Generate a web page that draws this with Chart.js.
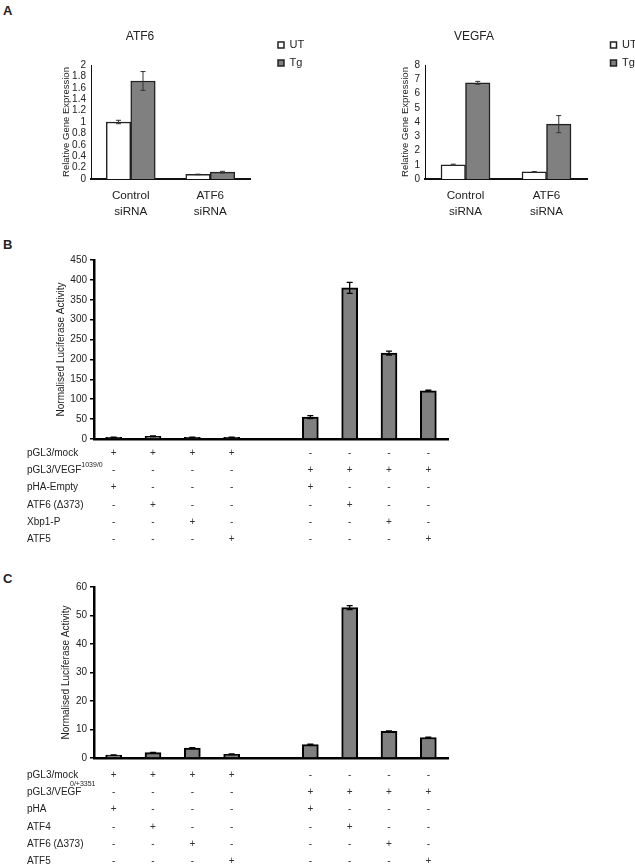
<!DOCTYPE html>
<html>
<head>
<meta charset="utf-8">
<script src="https://cdn.jsdelivr.net/npm/chart.js@4.4.0/dist/chart.umd.min.js"></script>
<style>
  body { margin: 0; background: #fff; font-family: "Liberation Sans", Arial, sans-serif; color: #222; }
  #page { position: relative; width: 635px; height: 867px; overflow: hidden; }
  canvas { position: absolute; }
  .letter { position: absolute; font-weight: bold; font-size: 13px; line-height: 1; }
  .row { position: absolute; font-size: 10px; white-space: nowrap; transform: translateY(-50%); line-height: 1; filter: grayscale(1); }
  .sign { position: absolute; font-size: 10px; color: #333; transform: translate(-50%, -50%); line-height: 1; filter: grayscale(1); }
  .sup { position: absolute; font-size: 7px; white-space: nowrap; transform: translateY(-50%); line-height: 1; filter: grayscale(1); }
</style>
</head>
<body>
<div id="page">
  <div class="letter" style="left:3px; top:4px">A</div>
  <div class="letter" style="left:3px; top:238px">B</div>
  <div class="letter" style="left:3px; top:572px">C</div>
  <canvas id="atf6-chart" width="286" height="205" style="left:30px; top:20px"></canvas>
  <canvas id="vegfa-chart" width="274" height="205" style="left:361px; top:20px"></canvas>
  <canvas id="luc-b" width="460" height="198" style="left:0px; top:250px"></canvas>
  <canvas id="luc-c" width="460" height="191" style="left:0px; top:576px"></canvas>
</div>
<script>
// panel A - qPCR
const siRNALabels = [["Control", "siRNA"], ["ATF6", "siRNA"]];
const atf6UT = [1.0, 0.08];
const atf6UTErr = [0.03, 0.005];
const atf6Tg = [1.72, 0.12];
const atf6TgErr = [0.165, 0.015];
const vegfaUT = [1.0, 0.5];
const vegfaUTErr = [0.04, 0.02];
const vegfaTg = [6.75, 3.85];
const vegfaTgErr = [0.1, 0.6];

// panels B and C - luciferase, lane 5 is an empty gap
const lanes = ["1", "2", "3", "4", "", "5", "6", "7", "8"];
const lucB = [4, 7, 4, 4, null, 55, 380, 216, 121];
const lucBErr = [0.8, 1, 0.6, 0.6, null, 4, 14, 5, 1.5];
const lucC = [1.0, 1.9, 3.5, 1.3, null, 4.7, 52.8, 9.4, 7.2];
const lucCErr = [0.1, 0.1, 0.15, 0.1, null, 0.15, 0.7, 0.15, 0.15];

const rowsB = ["pGL3/mock", "pGL3/VEGF", "pHA-Empty", "ATF6 (\u0394373)", "Xbp1-P", "ATF5"];
const signsB = ["++++ ----", "---- ++++", "+--- +---", "-+-- -+--", "--+- --+-", "---+ ---+"];
const rowsC = ["pGL3/mock", "pGL3/VEGF", "pHA", "ATF4", "ATF6 (\u0394373)", "ATF5"];
const signsC = ["++++ ----", "---- ++++", "+--- +---", "-+-- -+--", "--+- --+-", "---+ ---+"];
const supB = "-1039/0";
const supC = "0/+3351";

Chart.defaults.font.family = "'Liberation Sans', Arial, sans-serif";
Chart.defaults.color = "#222";

//draws the error bars on top of each bar, using the y scale
const errorBars = {
  id: "errorBars",
  afterDatasetsDraw(chart, args, opts) {
    const ctx = chart.ctx;
    const yScale = chart.scales.y;
    chart.data.datasets.forEach((ds, di) => {
      if (!ds.errors) return;
      const meta = chart.getDatasetMeta(di);
      meta.data.forEach((bar, i) => {
        const v = ds.data[i];
        const e = ds.errors[i];
        if (v == null || !e) return;
        const top = yScale.getPixelForValue(v + e);
        const bot = yScale.getPixelForValue(v - e);
        ctx.save();
        ctx.strokeStyle = opts.color;
        ctx.lineWidth = opts.width;
        ctx.beginPath();
        ctx.moveTo(bar.x, top);
        ctx.lineTo(bar.x, bot);
        ctx.moveTo(bar.x - opts.cap, top);
        ctx.lineTo(bar.x + opts.cap, top);
        ctx.moveTo(bar.x - opts.cap, bot);
        ctx.lineTo(bar.x + opts.cap, bot);
        ctx.stroke();
        ctx.restore();
      });
    });
  }
};

//moves the legend box to a fixed spot in the canvas
const legendAt = {
  id: "legendAt",
  afterLayout(chart, args, opts) {
    const lg = chart.legend;
    if (!lg || opts.x == null) return;
    lg.left = opts.x;
    lg.right = opts.x + lg.width;
    lg.top = opts.y;
    lg.bottom = opts.y + 150;
  }
};

const qpcrChart = (canvas, title, ut, utErr, tg, tgErr, yMax, step, axisW, rightPad, titlePad, legendX) => {
  return new Chart(canvas, {
    type: "bar",
    data: {
      labels: siRNALabels,
      datasets: [
        { label: "UT", data: ut, errors: utErr, backgroundColor: "#ffffff", borderColor: "#222", borderWidth: 1.5, barThickness: 24.5 },
        { label: "Tg", data: tg, errors: tgErr, backgroundColor: "#808080", borderColor: "#222", borderWidth: 1.5, barThickness: 24.5 }
      ]
    },
    options: {
      responsive: false,
      animation: false,
      layout: { padding: { top: 0, right: rightPad, bottom: 0, left: 0 } },
      plugins: {
        title: { display: true, text: title, color: "#222", font: { size: 12, weight: "normal" }, padding: { top: 9, bottom: 21.6 } },
        legend: {
          position: "chartArea",
          align: "start",
          labels: { boxWidth: 6, boxHeight: 6, padding: 7, color: "#222", font: { size: 11 } }
        },
        legendAt: { x: legendX, y: 12.5 },
        tooltip: { enabled: false },
        errorBars: { color: "#333", width: 1, cap: 2.5 }
      },
      scales: {
        x: {
          grid: { display: false, drawTicks: false },
          border: { color: "#111", width: 2 },
          ticks: { color: "#222", font: { size: 11.7, lineHeight: 1.3 }, padding: 9.5 },
          afterFit: (s) => { s.height = 46; }
        },
        y: {
          min: 0,
          max: yMax,
          grid: { display: false, drawTicks: false },
          border: { color: "#111", width: 1 },
          ticks: { stepSize: step, autoSkip: false, padding: 5, color: "#222", font: { size: 10 }, callback: (v) => +v.toFixed(1) },
          title: { display: true, text: "Relative Gene Expression", color: "#222", font: { size: 9.5 }, padding: { top: titlePad, bottom: 0 } },
          afterFit: (s) => { s.width = axisW; }
        }
      }
    },
    plugins: [errorBars, legendAt]
  });
};

const lucChart = (canvas, values, errs, yMax, step, topPad, titlePad) => {
  return new Chart(canvas, {
    type: "bar",
    data: {
      labels: lanes,
      datasets: [
        { data: values, errors: errs, backgroundColor: "#808080", borderColor: "#000", borderWidth: 2, barThickness: 16 }
      ]
    },
    options: {
      responsive: false,
      animation: false,
      layout: { padding: { top: topPad, right: 12, bottom: 0, left: 0 } },
      plugins: {
        legend: { display: false },
        tooltip: { enabled: false },
        errorBars: { color: "#000", width: 1.3, cap: 3 }
      },
      scales: {
        x: {
          grid: { display: false, drawTicks: false },
          border: { color: "#000", width: 2.5 },
          ticks: { display: false },
          afterFit: (s) => { s.height = 8; }
        },
        y: {
          min: 0,
          max: yMax,
          grid: { display: true, drawOnChartArea: false, drawTicks: true, tickLength: 4, color: "#000", lineWidth: 1.5 },
          border: { color: "#000", width: 2.5 },
          ticks: { stepSize: step, autoSkip: false, padding: 3, color: "#222", font: { size: 10 } },
          title: { display: true, text: "Normalised Luciferase Activity", color: "#222", font: { size: 10 }, padding: { top: titlePad, bottom: 0 } },
          afterFit: (s) => { s.width = 94; }
        }
      }
    },
    plugins: [errorBars]
  });
};

//the +/- table below a luciferase chart, columns follow the bars
const renderTable = (chart, canvasLeft, rows, signs, firstY, sup, supX, supY) => {
  const page = document.querySelector("#page");
  const xScale = chart.scales.x;
  rows.forEach((name, r) => {
    const y = firstY + r * 17.2;
    const label = document.createElement("div");
    label.className = "row";
    label.style.left = "27px";
    label.style.top = y + "px";
    label.textContent = name;
    page.appendChild(label);
    signs[r].split("").forEach((c, i) => {
      if (c === " ") return;
      const s = document.createElement("div");
      s.className = "sign";
      s.style.left = (canvasLeft + xScale.getPixelForValue(i)) + "px";
      s.style.top = y + "px";
      s.textContent = c === "-" ? "-" : "+";
      page.appendChild(s);
    });
  });
  const sp = document.createElement("div");
  sp.className = "sup";
  sp.style.left = supX + "px";
  sp.style.top = supY + "px";
  sp.textContent = sup;
  page.appendChild(sp);
};

const init = () => {
  qpcrChart(document.querySelector("#atf6-chart"), "ATF6", atf6UT, atf6UTErr, atf6Tg, atf6TgErr, 2, 0.2, 61, 66, 30.3, 241);
  qpcrChart(document.querySelector("#vegfa-chart"), "VEGFA", vegfaUT, vegfaUTErr, vegfaTg, vegfaTgErr, 8, 1, 64, 48, 38.3, 242.5);
  const chartB = lucChart(document.querySelector("#luc-b"), lucB, lucBErr, 450, 50, 10, 55);
  const chartC = lucChart(document.querySelector("#luc-c"), lucC, lucCErr, 60, 10, 11, 60);
  renderTable(chartB, 0, rowsB, signsB, 453, supB, 79, 464);
  renderTable(chartC, 0, rowsC, signsC, 775, supC, 70, 783);
};

init();
</script>
</body>
</html>
